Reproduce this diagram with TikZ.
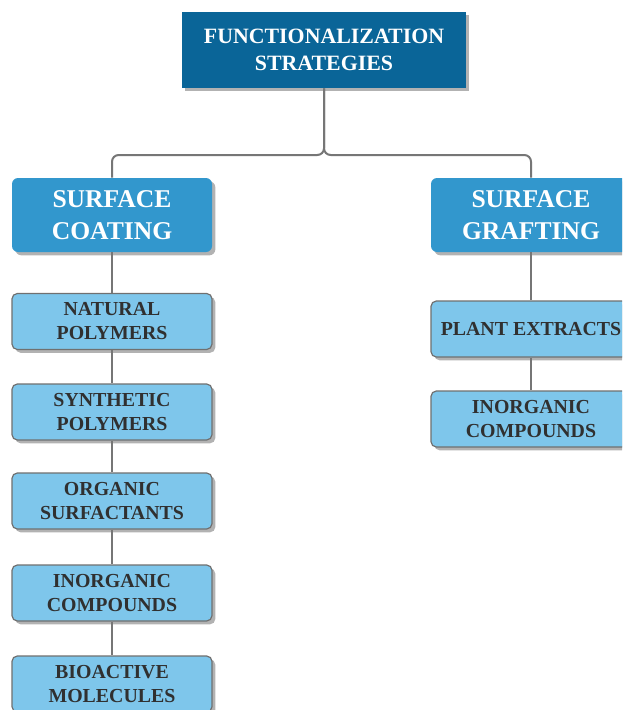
\documentclass[tikz,border=0pt]{standalone}
\usepackage{fontspec}
\setmainfont{Liberation Serif}
\usetikzlibrary{shadows}

\definecolor{topblue}{RGB}{10,101,152}
\definecolor{midblue}{RGB}{50,151,205}
\definecolor{lightblue}{RGB}{126,198,235}
\definecolor{boxedge}{RGB}{112,112,112}
\definecolor{linegrey}{RGB}{118,118,118}
\definecolor{textgrey}{RGB}{48,48,48}

\begin{document}
\begin{tikzpicture}[x=0.75pt, y=-0.75pt,
  shade/.style={drop shadow={shadow xshift=2.5pt, shadow yshift=-2.5pt, opacity=0.3, fill=black}},
  headbox/.style={shade, fill=topblue, text=white, align=center, minimum width=284*0.75pt, minimum height=76*0.75pt, font=\bfseries\fontsize{16.4}{20.5}\selectfont},
  methodbox/.style={shade, fill=midblue, rounded corners=4.5pt, text=white, align=center, minimum width=200*0.75pt, minimum height=74*0.75pt, font=\bfseries\fontsize{19.2}{23.5}\selectfont},
  itembox/.style={shade, draw=boxedge, line width=0.9pt, fill=lightblue, rounded corners=4pt, text=textgrey, align=center, inner xsep=1pt, minimum width=200*0.75pt, minimum height=56*0.75pt, font=\bfseries\fontsize{14.9}{18}\selectfont},
  link/.style={draw=linegrey, line width=1.5pt}]

\clip (0,0) rectangle (622,710);
\fill[white] (0,0) rectangle (622,710);

% Title box
\node[headbox] (title) at (324,50) {FUNCTIONALIZATION\\STRATEGIES};

% The two methods
\node[methodbox] (coating) at (112,215) {SURFACE\\COATING};
\node[methodbox] (grafting) at (531,215) {SURFACE\\GRAFTING};

% Left column
\node[itembox] (natural) at (112,321.5) {NATURAL\\POLYMERS};
\node[itembox] (synthetic) at (112,412) {SYNTHETIC\\POLYMERS};
\node[itembox] (organic) at (112,501) {ORGANIC\\SURFACTANTS};
\node[itembox] (inorgleft) at (112,593) {INORGANIC\\COMPOUNDS};
\node[itembox] (bioactive) at (112,684) {BIOACTIVE\\MOLECULES};

% Right column
\node[itembox] (plant) at (531,329) {PLANT EXTRACTS};
\node[itembox] (inorgright) at (531,419) {INORGANIC\\COMPOUNDS};

% Lines
\coordinate (fork) at (324,155);
\draw[link, rounded corners=5pt] (title.south) -- (fork) -| (coating.north);
\draw[link, rounded corners=5pt] (title.south) -- (fork) -| (grafting.north);

\draw[link] (coating.south) -- (natural.north);
\draw[link] (natural.south) -- (synthetic.north);
\draw[link] (synthetic.south) -- (organic.north);
\draw[link] (organic.south) -- (inorgleft.north);
\draw[link] (inorgleft.south) -- (bioactive.north);

\draw[link] (grafting.south) -- (plant.north);
\draw[link] (plant.south) -- (inorgright.north);

\end{tikzpicture}
\end{document}
